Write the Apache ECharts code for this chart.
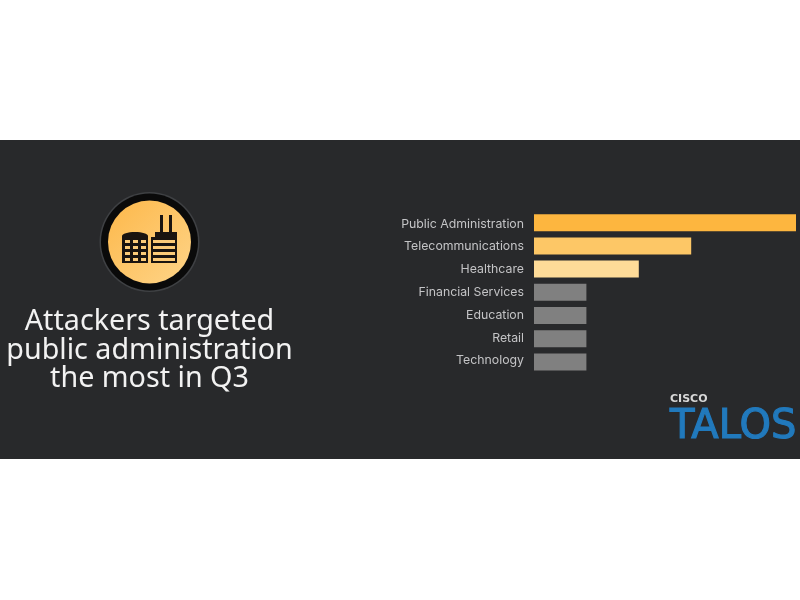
<!DOCTYPE html>
<html><head><meta charset="utf-8">
<style>html,body{margin:0;padding:0;background:#fff}#c{width:800px;height:600px}</style>
<script src="https://cdn.jsdelivr.net/npm/echarts@6/dist/echarts.min.js"></script>
</head><body><div id="c"></div>
<script>
const categories = ['Public Administration','Telecommunications','Healthcare','Financial Services','Education','Retail','Technology'];
const values = [5,3,2,1,1,1,1];
const barColors = ['#fdb63f','#fdc766','#fedb98','#808080','#808080','#808080','#808080'];
const titleLines = ['Attackers targeted','public administration','the most in Q3'];

const chart = echarts.init(document.getElementById('c'), null, {renderer:'canvas'});
const ink = '#1a1410', amber = '#fccb78';
const rect = (x,y,w,h,fill,z) => ({type:'rect',shape:{x,y,width:w,height:h},style:{fill},z:z||2,silent:true});
const icon = [
  {type:'circle',shape:{cx:149.5,cy:242,r:50},style:{fill:'#3f4144'},z:1},
  {type:'circle',shape:{cx:149.5,cy:242,r:48.5},style:{fill:'#0a0a0a'},z:1},
  {type:'circle',shape:{cx:149.5,cy:242,r:41.5},style:{fill:{type:'linear',x:0,y:0,x2:1,y2:1,colorStops:[{offset:0,color:'#fdb84a'},{offset:1,color:'#fed488'}]}},z:1},
  {type:'ellipse',shape:{cx:135,cy:236,rx:13,ry:4},style:{fill:ink},z:2},
  rect(122,236,26,27,ink),
  rect(155,232,22,6,ink), rect(151,237,26,26,ink),
  rect(160,215,3,18,ink), rect(169,215,3,18,ink),
  rect(153,240,22,3,amber,3), rect(153,246,22,3,amber,3), rect(153,252,22,3,amber,3), rect(153,258,22,3,amber,3)
];
[125,133,141].forEach(x=>[240,246,252,258].forEach(y=>icon.push(rect(x,y,5,3,amber,3))));

const option = {
  animation:false,
  backgroundColor:'#ffffff',
  grid:[
    {left:534,top:211.1,width:262,height:162.4},
    {left:534,top:212.5,width:262,height:159.6}
  ],
  xAxis:[
    {type:'value',min:0,max:5,show:false,gridIndex:0},
    {type:'value',min:0,max:5,show:false,gridIndex:1}
  ],
  yAxis:[
    {type:'category',inverse:true,data:categories,gridIndex:0,
      axisLine:{show:false},axisTick:{show:false},axisLabel:{show:false}},
    {type:'category',inverse:true,data:categories,gridIndex:1,
      axisLine:{show:false},axisTick:{show:false},
      axisLabel:{color:'#c4c4c6',fontSize:12.3,fontFamily:'Inter, Liberation Sans, sans-serif',margin:10}}
  ],
  series:[{type:'bar',barWidth:17,xAxisIndex:0,yAxisIndex:0,
    data:values.map((v,i)=>({value:v,itemStyle:{color:barColors[i]}})),z:5}],
  graphic:{elements:[
    {type:'rect',shape:{x:0,y:140,width:800,height:319},style:{fill:'#28292b'},z:-10,silent:true},
    ...icon,
    ...titleLines.map((t,i)=>({type:'text',x:149.5,y:322+i*28.5,z:5,
      style:{text:t,fill:'#f2f2f2',font:'400 28.7px "Noto Sans", sans-serif',align:'center',verticalAlign:'middle'}})),
    {type:'text',x:670,y:399.5,z:5,style:{text:'CISCO',fill:'#d8d8d8',font:'700 11px "DejaVu Sans", sans-serif',align:'left',verticalAlign:'middle'}},
    {type:'text',x:670,y:428,z:5,style:{text:'TALOS',fill:'#2179bc',stroke:'#2179bc',lineWidth:1.2,font:'400 40px "DejaVu Sans", sans-serif',align:'left',verticalAlign:'middle'}}
  ]}
};
chart.setOption(option);
</script></body></html>
